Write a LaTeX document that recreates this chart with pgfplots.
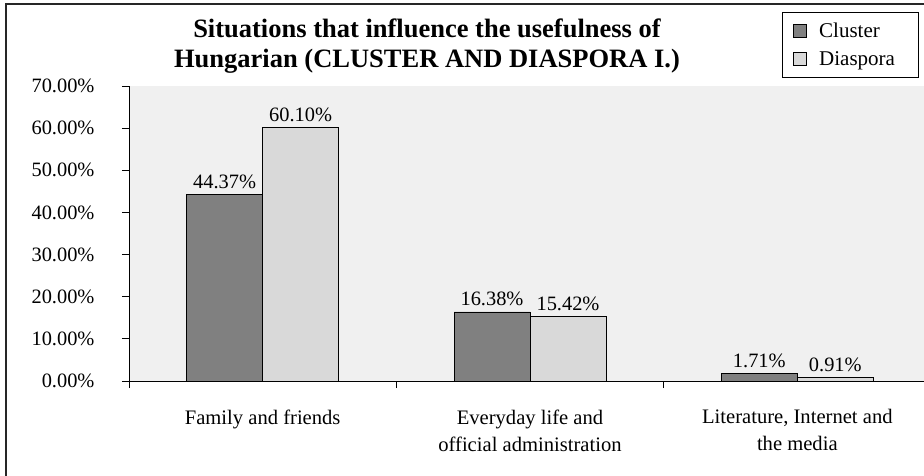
\documentclass[border=0pt]{standalone}
\usepackage{fontspec}
\setmainfont{Liberation Serif}
\usepackage{pgfplots}
\pgfplotsset{compat=1.18}

\definecolor{plotbg}{HTML}{F0F0F0}
\definecolor{clusterc}{HTML}{808080}
\definecolor{diasporac}{HTML}{D9D9D9}
\newcommand{\chartfont}{\fontsize{20.4}{24}\selectfont}
\newcommand{\catfont}{\fontsize{20.6}{27}\selectfont}
\newcommand{\legfont}{\fontsize{21}{25}\selectfont}
\newcommand{\titlefont}{\bfseries\fontsize{26.5}{30}\selectfont}

\begin{document}
\begin{tikzpicture}
\begin{axis}[
    at={(129pt,-381pt)}, anchor=south west,
    scale only axis,
    width=802pt, height=295pt,
    xmin=-0.5, xmax=2.5,
    ymin=0, ymax=70,
    ybar=0pt, bar width=76pt,
    axis background/.style={fill=plotbg},
    axis x line*=bottom, axis y line*=left,
    axis line style={black, line width=0.8pt, -},
    tick align=outside, major tick length=7pt,
    tick style={black, line width=0.8pt},
    /pgf/number format/assume math mode=true,
    ytick={0,10,...,70},
    yticklabel={\pgfmathprintnumber[fixed,fixed zerofill,precision=2]{\tick}\%},
    yticklabel style={font=\chartfont, xshift=-24pt},
    xtick={-0.5,0.5,1.5,2.5},
    xticklabels={,,,},
    extra x ticks={0,1,2},
    extra x tick labels={Family and friends, {Everyday life and\\official administration}, {Literature, Internet and\\the media}},
    extra x tick style={tick style={draw=none},
        tick label style={font=\catfont, align=center, yshift=-18pt}},
    nodes near coords={\pgfmathprintnumber[fixed,fixed zerofill,precision=2]{\pgfplotspointmeta}\%},
    every node near coord/.append style={font=\chartfont, black, yshift=2pt},
    legend style={at={(0.8142,1.2508)}, anchor=north west,
        draw=black, line width=0.8pt, fill=white, font=\legfont,
        row sep=9pt, inner xsep=11pt, inner ysep=8pt,
        nodes={inner xsep=12pt, inner ysep=2pt}},
    legend cell align=left,
    legend image code/.code={\draw[#1, draw=black, line width=0.8pt] (0pt,-6.5pt) rectangle (13pt,6.5pt);},
]
\addplot[fill=clusterc, draw=black, line width=0.8pt] coordinates {(0,44.37) (1,16.38) (2,1.71)};
\addlegendentry{Cluster}
\addplot[fill=diasporac, draw=black, line width=0.8pt] coordinates {(0,60.10) (1,15.42) (2,0.91)};
\addlegendentry{Diaspora}
\end{axis}

\node[anchor=base, font=\titlefont] at (427pt,-37pt) {Situations that influence the usefulness of};
\node[anchor=base, font=\titlefont] at (427pt,-67pt) {Hungarian (CLUSTER AND DIASPORA I.)};

\draw[line width=1.4pt, black!85] (6pt,-480pt) -- (6pt,-4pt) -- (940pt,-4pt);

\pgfresetboundingbox
\path[use as bounding box] (0pt,0pt) rectangle (924pt,-475pt);
\end{tikzpicture}
\end{document}
